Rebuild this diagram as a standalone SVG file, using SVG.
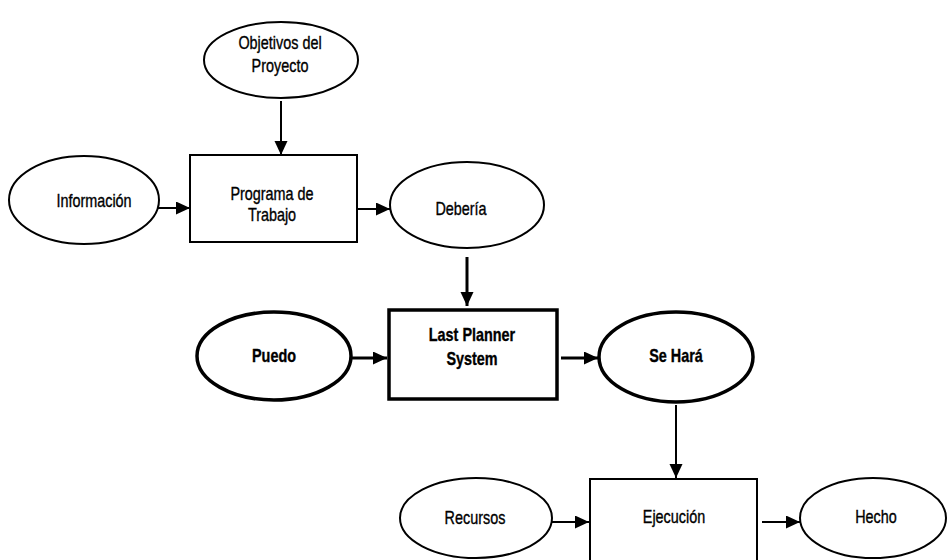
<svg xmlns="http://www.w3.org/2000/svg" width="947" height="560" viewBox="0 0 947 560">
  <style>
    .shape { fill: #fff; stroke: #000; stroke-width: 2; }
    .thick { stroke-width: 3.5; }
    .label { font-family: "Liberation Sans", Arial, sans-serif; font-size: 18px; fill: #000; stroke: #000; stroke-width: 0.35; text-anchor: middle; }
    .bold { font-weight: bold; }
    .edge { stroke: #000; stroke-width: 2; fill: none; marker-end: url(#arrow); }
    .edge.heavy { stroke-width: 3; }
  </style>
  <defs>
    <marker id="arrow" markerUnits="userSpaceOnUse" markerWidth="16" markerHeight="14" refX="14" refY="6.5" orient="auto">
      <path d="M0,0 L14,6.5 L0,13 Z" fill="#000"/>
    </marker>
  </defs>
  <rect width="947" height="560" fill="#fff"/>

  <g id="connectors">
    <line class="edge" x1="281" y1="101" x2="281" y2="155"/>
    <line class="edge" x1="158" y1="208" x2="190" y2="208"/>
    <line class="edge" x1="357" y1="209" x2="390" y2="209"/>
    <line class="edge heavy" x1="467" y1="257" x2="467" y2="306"/>
    <line class="edge heavy" x1="352" y1="358" x2="387" y2="358"/>
    <line class="edge heavy" x1="561" y1="358" x2="598" y2="358"/>
    <line class="edge" x1="676" y1="405" x2="676" y2="478"/>
    <line class="edge" x1="552" y1="522" x2="589" y2="522"/>
    <line class="edge" x1="762" y1="522" x2="800" y2="522"/>
  </g>

  <!-- labels are set in a narrowed sans: each text is squeezed horizontally about its centre -->
  <g id="objetivos">
    <ellipse class="shape" cx="281" cy="60" rx="77" ry="38"/>
    <text class="label" transform="translate(280,49) scale(0.8,1)">Objetivos del</text>
    <text class="label" transform="translate(280,72) scale(0.8,1)">Proyecto</text>
  </g>
  <g id="informacion">
    <ellipse class="shape" cx="84" cy="200" rx="75" ry="44"/>
    <text class="label" transform="translate(94,207) scale(0.8,1)">Información</text>
  </g>
  <g id="programa">
    <rect class="shape" x="190" y="155" width="167" height="87"/>
    <text class="label" transform="translate(272,200) scale(0.8,1)">Programa de</text>
    <text class="label" transform="translate(272,221) scale(0.8,1)">Trabajo</text>
  </g>
  <g id="deberia">
    <ellipse class="shape" cx="467" cy="205" rx="77" ry="43"/>
    <text class="label" transform="translate(461,215) scale(0.8,1)">Debería</text>
  </g>
  <g id="puedo">
    <ellipse class="shape thick" cx="274" cy="356" rx="77" ry="44"/>
    <text class="label bold" transform="translate(274,362) scale(0.8,1)">Puedo</text>
  </g>
  <g id="last-planner">
    <rect class="shape thick" x="389" y="310" width="168" height="89"/>
    <text class="label bold" transform="translate(472,341) scale(0.8,1)">Last Planner</text>
    <text class="label bold" transform="translate(472,365) scale(0.8,1)">System</text>
  </g>
  <g id="se-hara">
    <ellipse class="shape thick" cx="676" cy="357" rx="77" ry="45"/>
    <text class="label bold" transform="translate(676,362) scale(0.8,1)">Se Hará</text>
  </g>
  <g id="recursos">
    <ellipse class="shape" cx="476" cy="518" rx="76" ry="40"/>
    <text class="label" transform="translate(475,524) scale(0.8,1)">Recursos</text>
  </g>
  <g id="ejecucion">
    <rect class="shape" x="590" y="479" width="167" height="95"/>
    <text class="label" transform="translate(674,523) scale(0.8,1)">Ejecución</text>
  </g>
  <g id="hecho">
    <ellipse class="shape" cx="873" cy="518" rx="73" ry="40"/>
    <text class="label" transform="translate(876,523) scale(0.8,1)">Hecho</text>
  </g>
</svg>
